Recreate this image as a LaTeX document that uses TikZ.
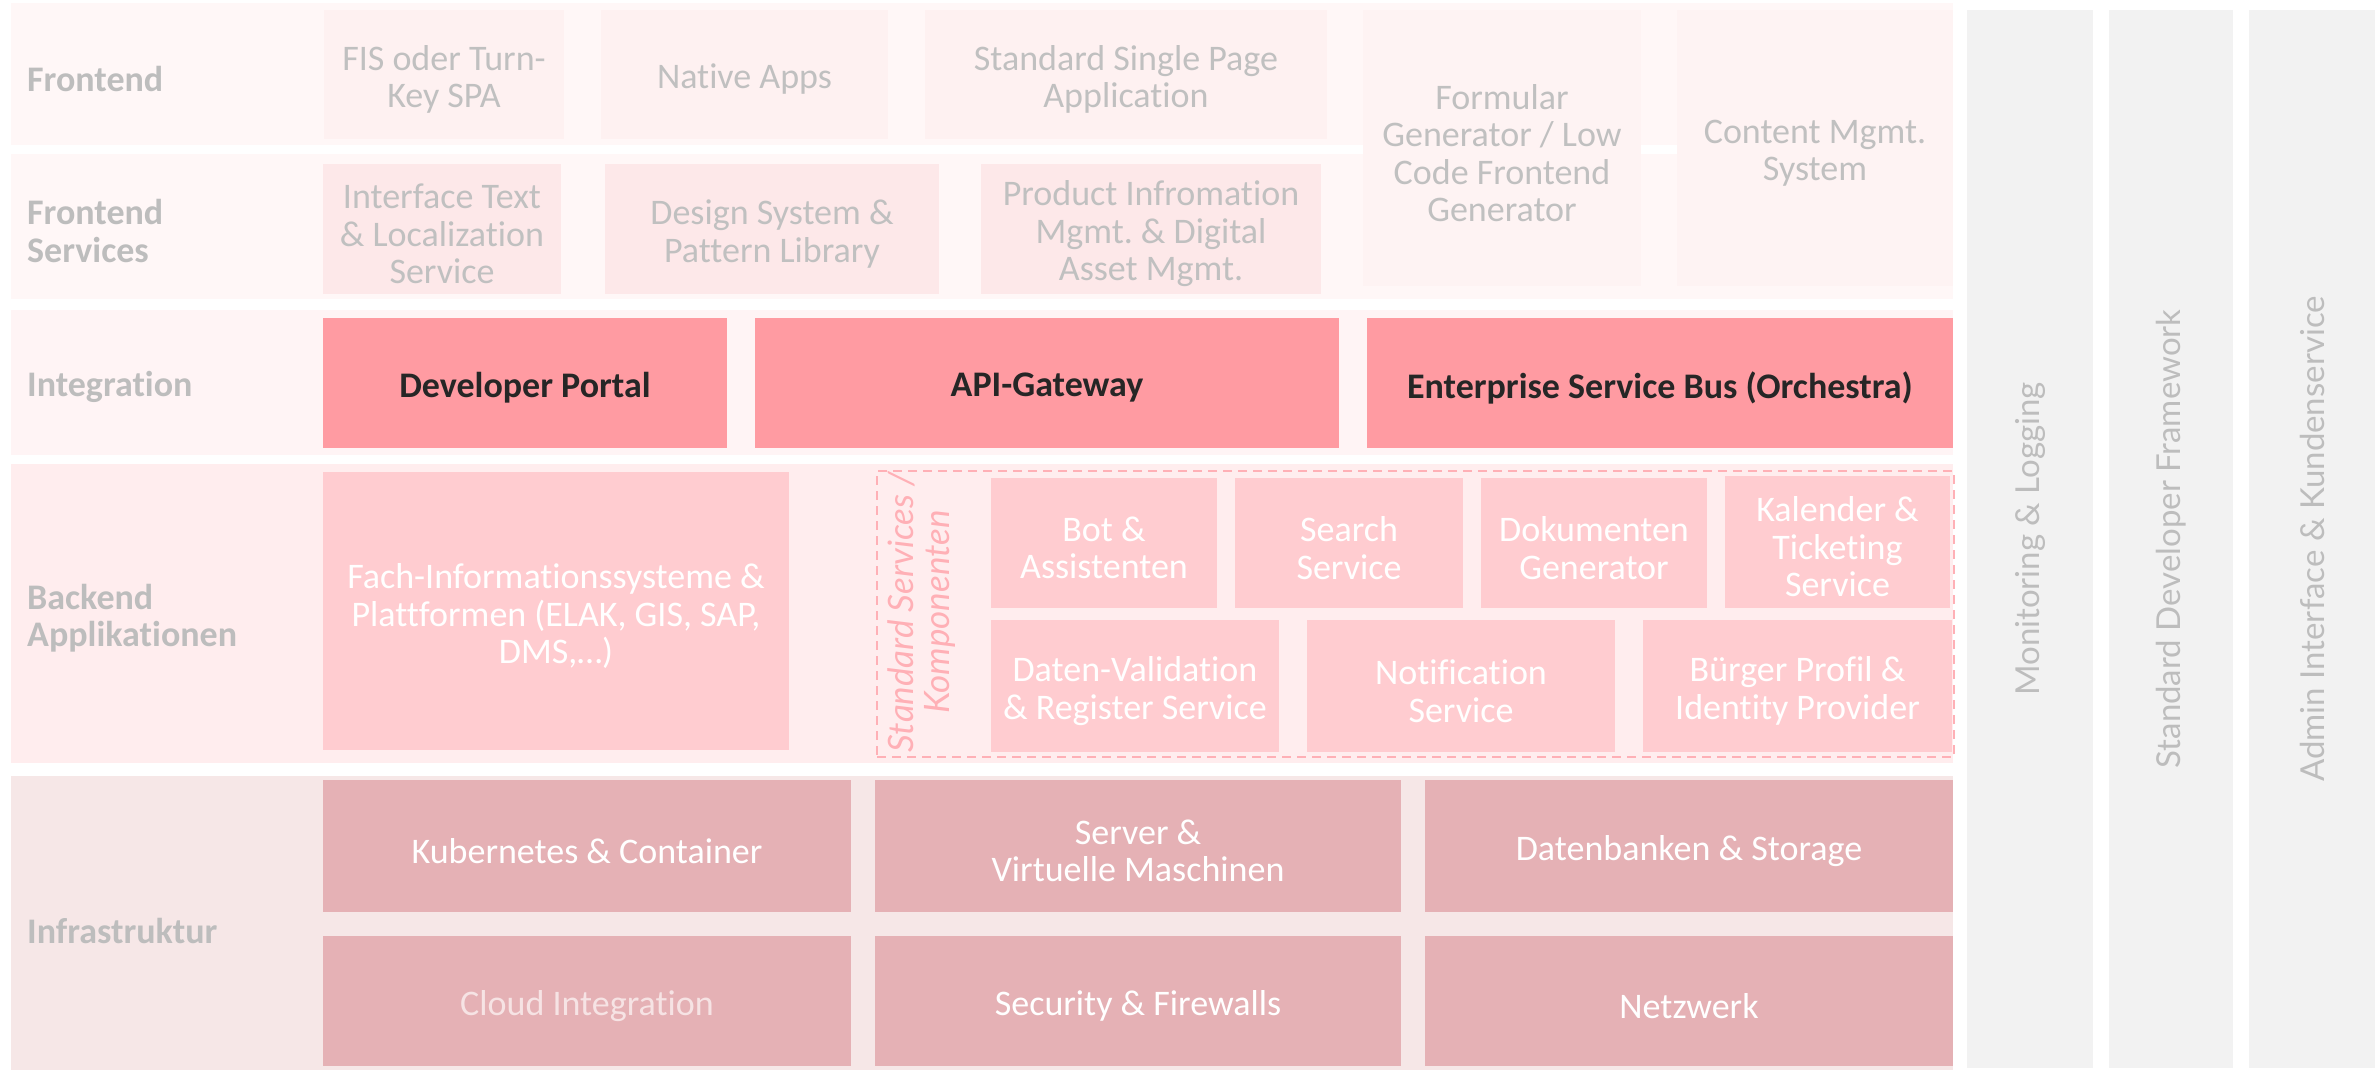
\documentclass[tikz,border=0pt]{standalone}
\usepackage{fontspec}
\setmainfont{Carlito}[Ligatures=NoCommon]
\newfontfamily\colfont{Lato}[Ligatures=NoCommon]
\frenchspacing
\definecolor{bandF}{HTML}{FFF7F7}
\definecolor{bandI}{HTML}{FFF4F5}
\definecolor{bandB}{HTML}{FFEDEE}
\definecolor{bandX}{HTML}{F6E7E7}
\definecolor{boxF}{HTML}{FEF1F1}
\definecolor{boxFS}{HTML}{FDE8E9}
\definecolor{boxBig}{HTML}{FEF3F3}
\definecolor{boxI}{HTML}{FF9BA2}
\definecolor{boxB}{HTML}{FFCCD0}
\definecolor{boxX}{HTML}{E5B1B5}
\definecolor{colbg}{HTML}{F2F2F2}
\definecolor{lblgray}{HTML}{BDBDBD}
\definecolor{txtgray}{HTML}{C0C0C0}
\definecolor{darktxt}{HTML}{262626}
\definecolor{dashpink}{HTML}{FFB0B6}
\definecolor{cloudtxt}{HTML}{F6E3E4}
\newcommand\bx[7]{%
  \node[#6, minimum width={#4pt-#2pt}, minimum height={#5pt-#3pt}, anchor=north west] (#1) at (#2,#3) {};
  \node[#6, fill=none, draw=none, yshift=-5pt] (#1t) at (#1.center) {#7};}
\tikzset{
  base/.style={inner sep=0pt, outer sep=0pt, align=center, font=\fontsize{36}{37.5}\selectfont\frenchspacing},
  band/.style={base, fill=#1},
  fbox/.style={base, fill=boxF, text=txtgray},
  fsbox/.style={base, fill=boxFS, text=txtgray},
  bigbox/.style={base, fill=boxBig, text=txtgray},
  ibox/.style={base, fill=boxI, text=darktxt, font=\fontsize{36}{37.5}\selectfont\bfseries},
  bbox/.style={base, fill=boxB, text=white},
  xbox/.style={base, fill=boxX, text=white},
  colbox/.style={base, fill=colbg},
  lbl/.style={inner sep=0pt, anchor=west, align=left, yshift=-5pt, text=lblgray, font=\fontsize{36}{37.5}\selectfont\bfseries},
  coltxt/.style={inner sep=0pt, rotate=90, text=lblgray, font=\colfont\fontsize{33}{36}\selectfont},
  dashbox/.style={inner sep=0pt, outer sep=0pt, draw=dashpink, line width=2pt, dash pattern=on 9pt off 6pt},
  stdlbl/.style={inner sep=0pt, rotate=90, align=center, text=dashpink, font=\colfont\itshape\fontsize{35}{36}\selectfont}
}
\begin{document}
\begin{tikzpicture}[x=1pt,y=-1pt]
\useasboundingbox (0,0) rectangle (2379,1070);
\fill[white] (0,0) rectangle (2379,1070);
% bands
\bx{bFront}{11}{3}{1953}{145}{band=bandF}{}
\bx{bFS}{11}{154}{1953}{299}{band=bandF}{}
\bx{bInt}{11}{310}{1953}{455}{band=bandI}{}
\bx{bBack}{11}{464}{1953}{763}{band=bandB}{}
\bx{bInfra}{11}{776}{1953}{1070}{band=bandX}{}
% labels
\node[lbl] (lFront) at (27,74) {Frontend};
\node[lbl] (lFS) at (27,226) {Frontend\\Services};
\node[lbl] (lInt) at (27,382) {Integration};
\node[lbl] (lBack) at (27,613) {Backend\\Applikationen};
\node[lbl] (lInfra) at (27,926) {Infrastruktur};
% frontend
\bx{fis}{324}{10}{564}{139}{fbox}{FIS oder Turn-\\Key SPA}
\bx{native}{601}{10}{888}{139}{fbox}{Native Apps}
\bx{spa}{925}{10}{1327}{139}{fbox}{Standard Single Page\\Application}
\bx{form}{1363}{10}{1641}{286}{bigbox}{Formular\\Generator / Low\\Code Frontend\\Generator}
\bx{cms}{1677}{10}{1953}{286}{bigbox}{Content Mgmt.\\System}
% frontend services
\bx{itl}{323}{164}{561}{294}{fsbox}{Interface Text\\\& Localization\\Service}
\bx{dsp}{605}{164}{939}{294}{fsbox}{Design System \&\\Pattern Library}
\bx{pim}{981}{164}{1321}{294}{fsbox}{Product Infromation\\Mgmt. \& Digital\\Asset Mgmt.}
% integration
\bx{dev}{323}{318}{727}{448}{ibox}{Developer Portal}
\bx{api}{755}{318}{1339}{448}{ibox}{API-Gateway}
\bx{esb}{1367}{318}{1953}{448}{ibox}{Enterprise Service Bus (Orchestra)}
% backend
\bx{fach}{323}{472}{789}{750}{bbox}{Fach-Informationssysteme \&\\Plattformen (ELAK, GIS, SAP,\\DMS,…)}
\node[dashbox, minimum width=1077pt, minimum height=286pt, anchor=north west] (std) at (877,471) {};
\node[stdlbl] (stdT) at (922,612) {Standard Services /\\Komponenten};
\bx{bot}{991}{478}{1217}{608}{bbox}{Bot \&\\Assistenten}
\bx{search}{1235}{478}{1463}{608}{bbox}{Search\\Service}
\bx{doku}{1481}{478}{1707}{608}{bbox}{Dokumenten\\Generator}
\bx{kal}{1725}{476}{1950}{608}{bbox}{Kalender \&\\Ticketing\\Service}
\bx{dval}{991}{620}{1279}{752}{bbox}{Daten-Validation\\\& Register Service}
\bx{notif}{1307}{620}{1615}{752}{bbox}{Notification\\Service}
\bx{buerger}{1643}{620}{1952}{752}{bbox}{Bürger Profil \&\\Identity Provider}
% infrastructure
\bx{kub}{323}{780}{851}{912}{xbox}{Kubernetes \& Container}
\bx{srv}{875}{780}{1401}{912}{xbox}{Server \&\\Virtuelle Maschinen}
\bx{db}{1425}{780}{1953}{912}{xbox}{Datenbanken \& Storage}
\bx{cloud}{323}{936}{851}{1066}{xbox, text=cloudtxt}{Cloud Integration}
\bx{sec}{875}{936}{1401}{1066}{xbox}{Security \& Firewalls}
\bx{net}{1425}{936}{1953}{1066}{xbox}{Netzwerk}
% columns
\node[colbox, minimum width=126pt, minimum height=1058pt, anchor=north west] (mon) at (1967,10) {};
\node[colbox, minimum width=124pt, minimum height=1058pt, anchor=north west] (sdf) at (2109,10) {};
\node[colbox, minimum width=126pt, minimum height=1058pt, anchor=north west] (adm) at (2249,10) {};
\node[coltxt] (monT) at (mon.center) {Monitoring \& Logging};
\node[coltxt] (sdfT) at (sdf.center) {Standard Developer Framework};
\node[coltxt] (admT) at (adm.center) {Admin Interface \& Kundenservice};
\end{tikzpicture}
\end{document}
